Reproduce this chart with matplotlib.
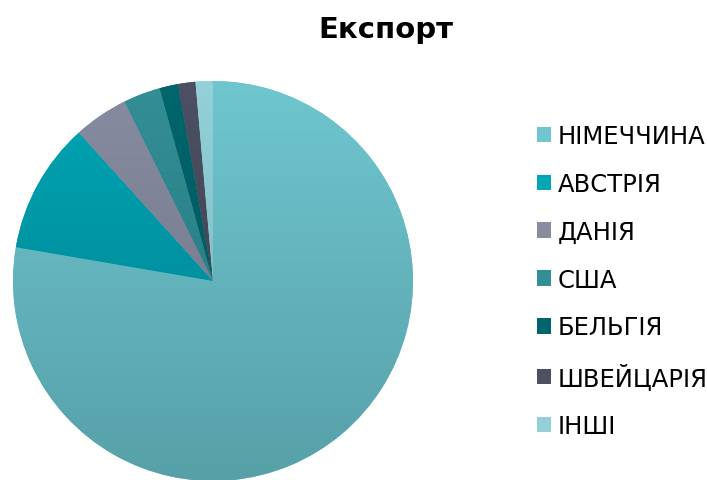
import numpy as np
import matplotlib.pyplot as plt
from matplotlib.patches import Rectangle

labels = ['НІМЕЧЧИНА', 'АВСТРІЯ', 'ДАНІЯ', 'США', 'БЕЛЬГІЯ', 'ШВЕЙЦАРІЯ', 'ІНШІ']
values = [77.7, 10.6, 4.4, 3.0, 1.5, 1.4, 1.4]
# top / bottom colours of the vertical gradient of each slice
tops = ['#6fc6cf', '#00a6b6', '#878ca0', '#338f95', '#00666d', '#4c5062', '#93d0d8']
bottoms = ['#57a0a8', '#007d8a', '#6c7184', '#24707a', '#005258', '#3b3e4d', '#74b3bb']

plt.rcParams['font.family'] = ['DejaVu Sans']

fig = plt.figure(figsize=(7.07, 4.81), dpi=100)
W, H = 707, 481
cx, cy, r = 213, 282, 200
ax = fig.add_axes([(cx - r) / W, (H - cy - r) / H, 2 * r / W, 2 * r / H])

wedges, _ = ax.pie(values, startangle=90, counterclock=False,
                   colors=tops, wedgeprops=dict(linewidth=0))

def hex2rgb(h):
    return np.array([int(h[i:i + 2], 16) / 255 for i in (1, 3, 5)])

t = np.linspace(0, 1, 256)[:, None]
for w, c1, c2 in zip(wedges, tops, bottoms):
    grad = (1 - t) * hex2rgb(c1) + t * hex2rgb(c2)
    img = ax.imshow(grad[:, None, :].repeat(2, axis=1), extent=[-1, 1, -1, 1],
                    origin='upper', interpolation='bilinear', aspect='auto', zorder=2)
    img.set_clip_path(w)

ax.set_xlim(-1, 1)
ax.set_ylim(-1, 1)
ax.set_aspect('equal')
ax.axis('off')

fig.text(386 / W, 1 - 30 / H, 'Експорт', ha='center', va='center',
         fontsize=21, fontweight='bold')

handles = [Rectangle((0, 0), 1, 1, facecolor=c, edgecolor='none') for c in tops]
fig.legend(handles, labels, loc='center left', bbox_to_anchor=(527 / W, 1 - 282 / H),
           frameon=False, fontsize=17.5, handlelength=0.6, handleheight=0.6,
           handletextpad=0.25, labelspacing=0.98, borderaxespad=0)

fig.savefig('out.png', dpi=100)
